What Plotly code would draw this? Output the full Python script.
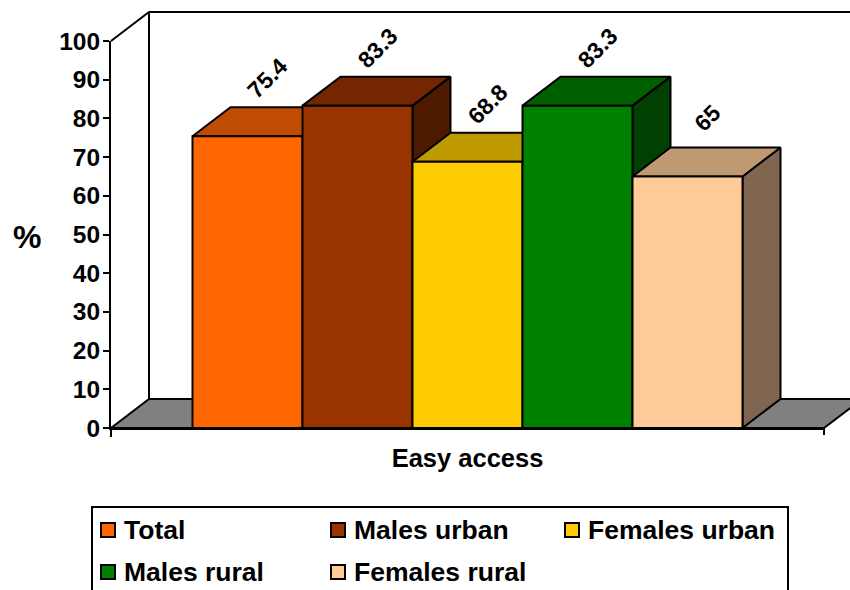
import plotly.graph_objects as go

names = ["Total", "Males urban", "Females urban", "Males rural", "Females rural"]
values = [75.4, 83.3, 68.8, 83.3, 65]
labels = ["75.4", "83.3", "68.8", "83.3", "65"]
front = ["#FF6600", "#993300", "#FFCC00", "#008000", "#FFCC99"]
top = ["#BF4C00", "#732600", "#BF9900", "#006000", "#BF9973"]
side = ["#803300", "#4D1A00", "#806600", "#004000", "#806650"]
category = "Easy access"
y_ticks = list(range(0, 101, 10))

W, H = 850, 590
PX_Y = 3.87
PX_X = 110.0
DX = 38 / PX_X
DY = 29 / PX_Y
X0 = 192.5
ax_left, ax_right, ax_bottom, ax_top = 111.0, 824.0, 428.0, 41.0
F = "Liberation Sans"
LW = 2

u = lambda p: (p - X0) / PX_X
px = lambda p: p / W
py = lambda p: 1 - p / H

fig = go.Figure()


def poly(xs, ys, fill, line="black", width=LW):
    fig.add_trace(go.Scatter(x=xs, y=ys, mode="lines", fill="toself", fillcolor=fill,
                             line=dict(color=line, width=width), hoverinfo="skip",
                             showlegend=False, xaxis="x", yaxis="y"))


xl, xr = u(ax_left), u(ax_right)
# floor
poly([xl, xr, xr + DX, xl + DX, xl], [0, 0, DY, DY, 0], "#808080")
# back wall outline and closing tick of the category axis
fig.add_trace(go.Scatter(x=[xl, xl + DX, xr + DX, None, xl + DX, xl + DX, None, xr, xr],
                         y=[100, 100 + DY, 100 + DY, None, 100 + DY, DY, None, 0, -7 / PX_Y], mode="lines",
                         line=dict(color="black", width=LW), hoverinfo="skip", showlegend=False,
                         xaxis="x", yaxis="y"))

# top and side faces, left to right so a shorter right neighbour's top covers the foot of the side
for i, v in enumerate(values):
    poly([i + 1, i + 1 + DX, i + 1 + DX, i + 1, i + 1], [0, DY, v + DY, v, 0], side[i])
    poly([i, i + DX, i + 1 + DX, i + 1, i], [v, v + DY, v + DY, v, v], top[i])

# real bars
for n, v, c in zip(names, values, front):
    fig.add_trace(go.Bar(name=n, x=[category], y=[v], showlegend=False,
                         marker=dict(color=c, line=dict(color="black", width=LW)),
                         xaxis="x2", yaxis="y2", hoverinfo="skip"))

for i, (v, t) in enumerate(zip(values, labels)):
    fig.add_annotation(x=i + 0.5 + 20 / PX_X, y=v + 58 / PX_Y, text="<b>%s</b>" % t, textangle=-45,
                       showarrow=False, xref="x", yref="y", xanchor="center", yanchor="middle",
                       font=dict(family=F, size=23, color="black"))

fig.add_annotation(x=px(27), y=py(237), xref="paper", yref="paper", text="<b>%</b>",
                   xanchor="center", yanchor="middle",
                   showarrow=False, font=dict(family=F, size=32, color="black"))

# legend box
fig.add_shape(type="rect", xref="paper", yref="paper", x0=px(92), x1=px(788), y0=py(507), y1=py(640),
              line=dict(color="black", width=LW), fillcolor="white", layer="above")
leg_x = [101, 331, 565, 101, 331]
leg_y = [530, 530, 530, 572, 572]
for n, c, lx, ly in zip(names, front, leg_x, leg_y):
    fig.add_shape(type="rect", xref="paper", yref="paper", x0=px(lx), x1=px(lx + 14),
                  y0=py(ly - 7), y1=py(ly + 7), line=dict(color="black", width=LW), fillcolor=c, layer="above")
    fig.add_annotation(x=px(lx + 21), y=py(ly), xref="paper", yref="paper", text="<b>%s</b>" % n,
                       xanchor="left", yanchor="middle", showarrow=False,
                       font=dict(family=F, size=26.5, color="black"))

fig.update_layout(
    width=W, height=H, margin=dict(l=0, r=0, t=0, b=0, autoexpand=False), autosize=False,
    paper_bgcolor="white", plot_bgcolor="rgba(0,0,0,0)", showlegend=False,
    barmode="group", bargap=1 - 550 / 713, bargroupgap=0,
    xaxis=dict(domain=[0, 1], range=[u(0), u(W)], visible=False, fixedrange=True),
    yaxis=dict(domain=[0, 1], range=[-(H - ax_bottom) / PX_Y, ax_bottom / PX_Y],
               visible=False, fixedrange=True),
    xaxis2=dict(domain=[px(ax_left), px(ax_right)], anchor="y2", type="category", tickson="boundaries",
                ticks="outside", ticklen=7, tickwidth=LW, tickcolor="black", showline=True,
                linecolor="black", linewidth=LW, showgrid=False, automargin=False, ticklabelstandoff=6,
                tickfont=dict(family=F, size=25.5, color="black", weight="bold")),
    yaxis2=dict(domain=[py(ax_bottom), py(ax_top)], anchor="x2", range=[0, 100],
                tickvals=y_ticks, ticks="outside", ticklen=6, tickwidth=LW, tickcolor="black", showline=True,
                linecolor="black", linewidth=LW, showgrid=False, zeroline=False, automargin=False,
                ticklabelstandoff=-2,
                tickfont=dict(family=F, size=24.5, color="black", weight="bold")),
)
fig.write_html("out.html", config={"displayModeBar": False},
               post_script="document.body.style.margin='0';")
